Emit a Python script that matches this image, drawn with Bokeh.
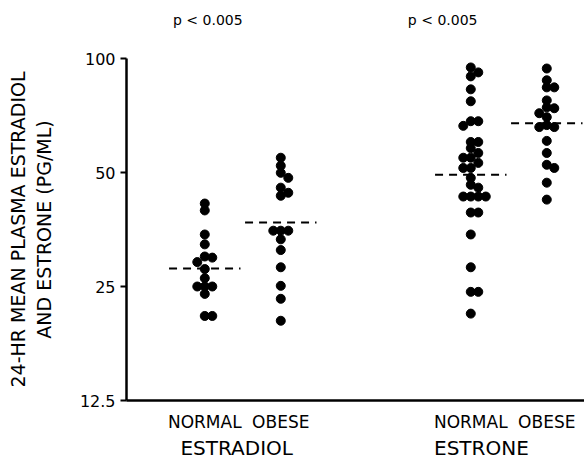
import math
from bokeh.plotting import figure
from bokeh.models import Range1d, FixedTicker, NumeralTickFormatter, LinearAxis
from bokeh.embed import file_html
from bokeh.resources import INLINE

# ---- data ----
hormones = ["ESTRADIOL", "ESTRONE"]
subgroups = ["NORMAL", "OBESE"]

estradiol_normal = [41.4, 39.7, 34.3, 32.3, 30.0, 29.8, 29.0, 27.8, 26.3,
                    25.0, 25.0, 25.0, 23.9, 20.9, 20.9]
estradiol_obese = [54.7, 52.1, 49.9, 48.4, 45.6, 44.2, 43.4, 35.1, 35.1,
                   35.1, 33.3, 31.2, 28.1, 25.1, 23.2, 20.3]
estrone_normal = [94.7, 91.9, 89.7, 82.9, 77.1, 68.3, 68.3, 66.4, 60.2,
                  60.2, 58.0, 56.3, 54.7, 54.7, 53.0, 51.4, 51.4, 48.4,
                  46.4, 45.6, 43.2, 43.2, 43.2, 43.2, 39.2, 39.2, 34.3,
                  28.1, 24.2, 24.2, 21.2]
estrone_obese = [94.1, 87.6, 83.9, 83.9, 77.5, 74.3, 73.9, 71.7, 70.0,
                 66.7, 65.9, 65.9, 60.6, 56.3, 52.4, 51.4, 47.0, 42.4]
group_means = [27.9, 36.9, 49.3, 67.5]
y_ticks = [12.5, 25, 50, 100]
p_labels = ["p < 0.005", "p < 0.005"]
y_title = "24-HR MEAN PLASMA ESTRADIOL\nAND ESTRONE (PG/ML)"

series = [estradiol_normal, estradiol_obese, estrone_normal, estrone_obese]

# ---- layout ----
W, H = 584, 462
ML, MT, MB, MR = 126, 58, 60, 0
X0 = -0.03
UNIT_PX = 76.0
X1 = X0 + (W - ML - MR) / UNIT_PX
Y0, Y1 = 12.5, 100.0
FONT = "DejaVu Sans"

px_per_unit = (W - ML - MR) / (X1 - X0)
px_per_doubling = (H - MT - MB) / math.log2(Y1 / Y0)

# group centres: two subgroups per hormone, hormones separated by a gap
positions = []
for hi in range(len(hormones)):
    for si in range(len(subgroups)):
        positions.append(1 + hi * 3.5 + si)
hormone_label_pos = [1.42, 4.64]
p_label_pos = [1.04, 4.13]


def swarm(values, center, min_dist=6.0, step=7.5):
    placed, xs = [], []
    for v in values:
        yp = math.log2(v) * px_per_doubling
        xp = 0.0
        for k in [0, 1, -1, 2, -2, 3, -3]:
            xp = k * step
            if all((xp - a) ** 2 + (yp - b) ** 2 >= min_dist ** 2 for a, b in placed):
                break
        placed.append((xp, yp))
        xs.append(center + xp / px_per_unit)
    return xs


p = figure(width=W, height=H, y_axis_type="log",
           x_range=Range1d(X0, X1), y_range=Range1d(Y0, Y1),
           output_backend="svg", toolbar_location=None,
           min_border_left=ML, min_border_top=MT,
           min_border_bottom=MB, min_border_right=MR)
p.outline_line_color = None
p.grid.visible = False
p.background_fill_color = "white"


def text_only_axis(ax):
    ax.axis_line_color = None
    ax.major_tick_line_color = None
    ax.minor_tick_line_color = None
    ax.major_label_text_font = FONT
    ax.major_label_text_color = "black"


# y axis
ya = p.yaxis[0]
ya.ticker = FixedTicker(ticks=y_ticks)
ya.formatter = NumeralTickFormatter(format="0.[0]")
ya.axis_line_width = 2.5
ya.axis_line_color = "black"
ya.major_tick_in = 0
ya.major_tick_out = 6
ya.major_tick_line_width = 2
ya.minor_tick_line_color = None
ya.major_label_standoff = 5
ya.major_label_text_font = FONT
ya.major_label_text_font_size = "16px"
ya.major_label_text_color = "black"
ya.axis_label = y_title
ya.axis_label_text_font = FONT
ya.axis_label_text_font_size = "19px"
ya.axis_label_text_font_style = "normal"
ya.axis_label_text_line_height = 1.18
ya.axis_label_text_color = "black"
ya.axis_label_standoff = 22

# x axis: subgroup names
xa = p.xaxis[0]
xa.ticker = FixedTicker(ticks=positions)
xa.major_label_overrides = {float(pos): subgroups[i % 2] for i, pos in enumerate(positions)}
xa.axis_line_width = 2.5
xa.axis_line_color = "black"
xa.major_tick_line_color = None
xa.minor_tick_line_color = None
xa.major_label_standoff = 5
xa.major_label_text_font = FONT
xa.major_label_text_font_size = "17px"
xa.major_label_text_color = "black"

# second bottom axis: hormone names
xb = LinearAxis(ticker=FixedTicker(ticks=hormone_label_pos),
                major_label_overrides={float(x): n for x, n in zip(hormone_label_pos, hormones)})
text_only_axis(xb)
xb.major_label_text_font_size = "20px"
xb.major_label_standoff = -5
p.add_layout(xb, "below")

# top axis: p-values
xt = LinearAxis(ticker=FixedTicker(ticks=p_label_pos),
                major_label_overrides={float(x): t for x, t in zip(p_label_pos, p_labels)})
text_only_axis(xt)
xt.major_label_text_font_size = "14px"
xt.major_label_standoff = 25
p.add_layout(xt, "above")

# points
for vals, pos in zip(series, positions):
    xs = swarm(vals, pos)
    p.scatter(xs, vals, marker="circle", size=9, color="black")

# mean lines
half = 0.47
p.segment(x0=[pos - half for pos in positions], x1=[pos + half for pos in positions],
          y0=group_means, y1=group_means, line_color="black", line_width=2,
          line_dash="8 6")

open("out.html", "w").write(file_html(p, INLINE))
